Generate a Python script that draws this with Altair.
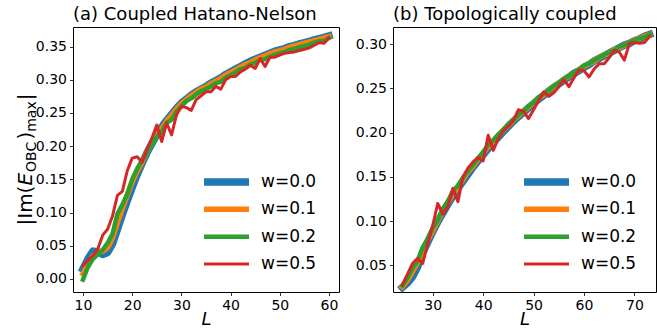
import altair as alt
import pandas as pd

series_names = ["w=0.0", "w=0.1", "w=0.2", "w=0.5"]
colors = ["#1f77b4", "#ff7f0e", "#2ca02c", "#d62728"]
line_widths = [7.5, 5.5, 4.5, 3.0]

# (a) Coupled Hatano-Nelson
L_left = list(range(10, 61))
left_w00 = [0.015, 0.030, 0.042, 0.041, 0.037, 0.040, 0.053, 0.075, 0.097, 0.118,
            0.138, 0.157, 0.174, 0.190, 0.204, 0.217, 0.229, 0.239, 0.248, 0.257,
            0.265, 0.271, 0.277, 0.282, 0.286, 0.290, 0.295, 0.299, 0.303, 0.308,
            0.312, 0.316, 0.320, 0.324, 0.328, 0.331, 0.334, 0.337, 0.340, 0.343,
            0.345, 0.347, 0.350, 0.352, 0.354, 0.356, 0.358, 0.360, 0.362, 0.364,
            0.366]
left_w01 = [0.008, 0.022, 0.034, 0.040, 0.042, 0.047, 0.062, 0.085, 0.106, 0.126,
            0.146, 0.162, 0.176, 0.191, 0.205, 0.216, 0.226, 0.238, 0.246, 0.256,
            0.264, 0.270, 0.276, 0.281, 0.286, 0.289, 0.294, 0.298, 0.302, 0.307,
            0.311, 0.315, 0.319, 0.323, 0.326, 0.330, 0.333, 0.336, 0.339, 0.342,
            0.344, 0.346, 0.349, 0.351, 0.353, 0.355, 0.357, 0.359, 0.361, 0.363,
            0.365]
left_w02 = [-0.001, 0.018, 0.030, 0.037, 0.044, 0.054, 0.068, 0.098, 0.112, 0.128,
            0.150, 0.166, 0.178, 0.190, 0.203, 0.214, 0.222, 0.235, 0.240, 0.252,
            0.260, 0.268, 0.272, 0.278, 0.283, 0.286, 0.290, 0.295, 0.297, 0.303,
            0.307, 0.311, 0.316, 0.318, 0.323, 0.325, 0.330, 0.331, 0.335, 0.338,
            0.340, 0.342, 0.345, 0.347, 0.349, 0.351, 0.353, 0.356, 0.358, 0.359,
            0.363]
left_w05 = [0.020, 0.028, 0.035, 0.045, 0.066, 0.075, 0.095, 0.126, 0.132, 0.163,
            0.182, 0.184, 0.176, 0.195, 0.212, 0.232, 0.207, 0.235, 0.217, 0.247,
            0.260, 0.258, 0.254, 0.270, 0.276, 0.282, 0.282, 0.290, 0.286, 0.300,
            0.305, 0.305, 0.312, 0.316, 0.322, 0.317, 0.332, 0.320, 0.334, 0.334,
            0.337, 0.340, 0.341, 0.342, 0.344, 0.346, 0.348, 0.352, 0.356, 0.355,
            0.363]

# (b) Topologically coupled
L_right = list(range(24, 74))
right_w00 = [0.025, 0.030, 0.037, 0.048, 0.064, 0.076, 0.088, 0.099, 0.109, 0.119,
             0.128, 0.137, 0.145, 0.153, 0.161, 0.168, 0.175, 0.182, 0.189, 0.195,
             0.201, 0.207, 0.213, 0.218, 0.223, 0.228, 0.233, 0.238, 0.242, 0.247,
             0.251, 0.255, 0.259, 0.263, 0.267, 0.270, 0.274, 0.277, 0.281, 0.284,
             0.287, 0.290, 0.293, 0.296, 0.299, 0.301, 0.304, 0.306, 0.309, 0.311]
right_w01 = [0.026, 0.033, 0.043, 0.053, 0.066, 0.078, 0.089, 0.100, 0.111, 0.121,
             0.131, 0.138, 0.147, 0.156, 0.162, 0.170, 0.177, 0.184, 0.190, 0.196,
             0.203, 0.208, 0.214, 0.219, 0.224, 0.229, 0.234, 0.239, 0.243, 0.248,
             0.252, 0.256, 0.260, 0.264, 0.267, 0.271, 0.275, 0.278, 0.281, 0.285,
             0.288, 0.290, 0.294, 0.296, 0.299, 0.302, 0.304, 0.307, 0.309, 0.311]
right_w02 = [0.027, 0.036, 0.047, 0.055, 0.070, 0.080, 0.092, 0.101, 0.114, 0.122,
             0.134, 0.140, 0.149, 0.157, 0.164, 0.171, 0.178, 0.186, 0.191, 0.198,
             0.203, 0.210, 0.214, 0.220, 0.224, 0.230, 0.234, 0.240, 0.244, 0.248,
             0.253, 0.256, 0.261, 0.264, 0.268, 0.271, 0.276, 0.278, 0.282, 0.285,
             0.288, 0.291, 0.293, 0.297, 0.299, 0.302, 0.304, 0.307, 0.308, 0.311]
right_w05 = [0.028, 0.040, 0.052, 0.058, 0.052, 0.074, 0.095, 0.120, 0.108, 0.116,
             0.137, 0.122, 0.150, 0.160, 0.167, 0.172, 0.168, 0.197, 0.180, 0.193,
             0.202, 0.207, 0.214, 0.226, 0.224, 0.216, 0.226, 0.236, 0.246, 0.241,
             0.245, 0.252, 0.260, 0.252, 0.262, 0.271, 0.270, 0.263, 0.272, 0.278,
             0.278, 0.285, 0.293, 0.291, 0.282, 0.301, 0.302, 0.301, 0.302, 0.309]

left_x_ticks = [10, 20, 30, 40, 50, 60]
left_y_ticks = [0.0, 0.05, 0.10, 0.15, 0.20, 0.25, 0.30, 0.35]
right_x_ticks = [30, 40, 50, 60, 70]
right_y_ticks = [0.05, 0.10, 0.15, 0.20, 0.25, 0.30]

FONT = "DejaVu Sans"


def to_long(Ls, cols):
    rows = []
    for name, vals in zip(series_names, cols):
        for l, v in zip(Ls, vals):
            rows.append({"L": l, "v": v, "series": name})
    return pd.DataFrame(rows)


color_scale = alt.Scale(domain=series_names, range=colors)
width_scale = alt.Scale(type="ordinal", domain=series_names, range=line_widths)


def panel(df, xdom, ydom, xticks, yticks, title, extra, width):
    lines = alt.Chart(df).mark_line(strokeCap="square", strokeJoin="round").encode(
        x=alt.X("L:Q", scale=alt.Scale(domain=xdom, nice=False, zero=False),
                axis=alt.Axis(values=xticks, format="d", title="L")),
        y=alt.Y("v:Q", scale=alt.Scale(domain=ydom, nice=False, zero=False),
                axis=alt.Axis(values=yticks, format=".2f", title=None)),
        color=alt.Color("series:N", scale=color_scale, legend=None),
        strokeWidth=alt.StrokeWidth("series:N", scale=width_scale, legend=None),
    )
    leg_df = pd.DataFrame({"series": series_names})
    leg_y = alt.Y("series:N", axis=None,
                  scale=alt.Scale(type="point", domain=series_names, range=[155, 237], padding=0))
    rules = alt.Chart(leg_df).mark_rule(strokeCap="butt").encode(
        x=alt.value(131), x2=alt.value(176), y=leg_y,
        color=alt.Color("series:N", scale=color_scale, legend=None),
        strokeWidth=alt.StrokeWidth("series:N", scale=width_scale, legend=None),
    )
    texts = alt.Chart(leg_df).mark_text(align="left", baseline="middle", fontSize=17,
                                        font=FONT, color="black").encode(
        x=alt.value(188), y=leg_y, text="series:N")
    return alt.layer(lines, rules, texts, *extra).resolve_scale(y="independent").properties(
        width=width, height=265,
        title=alt.TitleParams(title, anchor="start", frame="group", fontSize=18, font=FONT,
                              fontWeight="normal", baseline="alphabetic", offset=-11,
                              color="black"))


def piece(txt, x, y, size, style="normal"):
    return alt.Chart(alt.Data(values=[{}])).mark_text(
        text=txt, angle=270, align="left", baseline="alphabetic", fontSize=size,
        font=FONT, fontStyle=style, color="black").encode(x=alt.value(x), y=alt.value(y))


ylabel = [
    piece("|Im(", -41, 198.5, 20),
    piece("E", -41, 158.6, 20, "italic"),
    piece("OBC", -37, 145.0, 14),
    piece(")", -41, 112.6, 20),
    piece("max", -37, 104.8, 14),
    piece("|", -41, 73.3, 20),
]

left = panel(to_long(L_left, [left_w00, left_w01, left_w02, left_w05]),
             [7.97, 62.03], [-0.0196, 0.3795], left_x_ticks, left_y_ticks,
             "(a) Coupled Hatano-Nelson", ylabel, 266)
right = panel(to_long(L_right, [right_w00, right_w01, right_w02, right_w05]),
              [22.13, 74.27], [0.0198, 0.3195], right_x_ticks, right_y_ticks,
              "(b) Topologically coupled", [], 263)

chart = alt.hconcat(left, right, spacing=54, bounds="flush").properties(
    background="white",
).configure(
    padding={"left": 15, "top": 5, "right": 0, "bottom": 0},
).configure_view(stroke="black", strokeWidth=1).configure_axis(
    domain=False, grid=False, tickColor="black", tickSize=3.5, tickWidth=0.8,
    labelFont=FONT, labelFontSize=14, labelColor="black", labelPadding=3,
    titleFont=FONT, titleFontSize=18, titleFontStyle="italic", titleFontWeight="normal",
    titleColor="black", titlePadding=-2,
)

chart.save("out.html", embed_options={"renderer": "svg", "actions": False})
